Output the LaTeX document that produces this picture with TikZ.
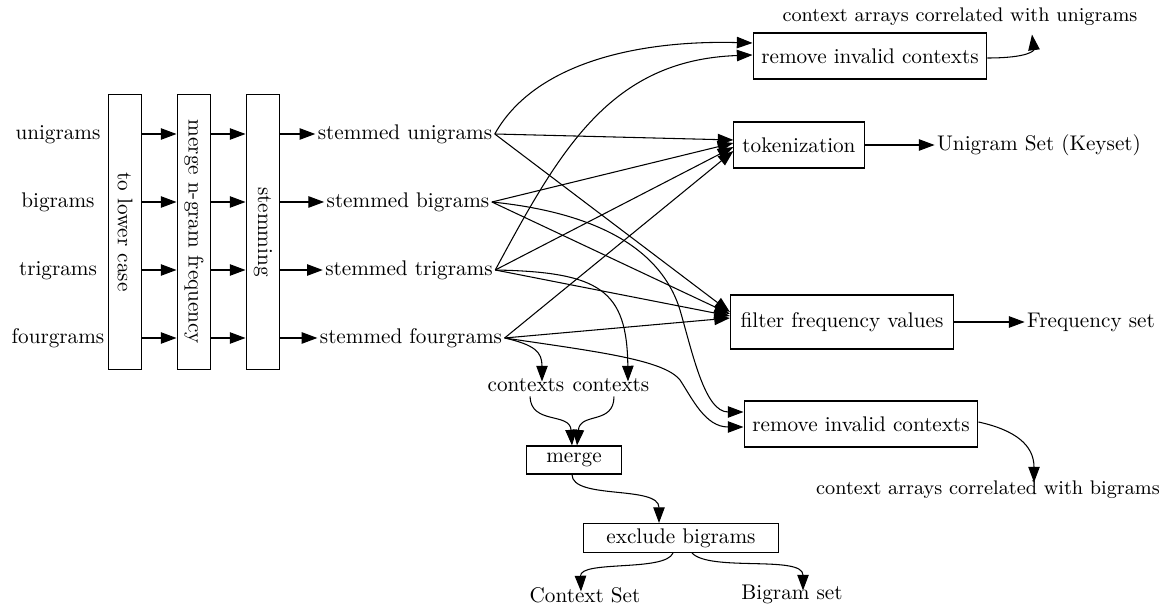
\documentclass[tikz,border=0pt]{standalone}
\usetikzlibrary{arrows.meta,calc}
\begin{document}
\begin{tikzpicture}[x=0.472pt,y=-0.472pt,
  edge/.style={draw, line width=0.5pt, -{Triangle[length=7.4pt,width=5.4pt]}},
  box/.style={draw, line width=0.5pt, inner sep=0pt},
  vbox/.style={box, rotate=-90, minimum width=129.8pt, minimum height=16pt},
  word/.style={inner sep=1pt, text height=1.5ex, text depth=.25ex},
  small/.style={word, font=\fontsize{9.3}{11}\selectfont}]
\useasboundingbox (0,0) rectangle (1165,606);

% input n-gram lists
\node[word] (un) at (58,134) {unigrams};
\node[word] (bi) at (58,202) {bigrams};
\node[word] (tr) at (58,270) {trigrams};
\node[word] (fo) at (58,338) {fourgrams};

% preprocessing stages
\node[vbox] (lc)  at (125,232) {to lower case};
\node[vbox] (mg)  at (194,232) {merge n-gram frequency};
\node[vbox] (stm) at (263,232) {stemming};

% stemmed outputs
\node[word] (sun) at (405,134) {stemmed unigrams};
\node[word] (sbi) at (408,202) {stemmed bigrams};
\node[word] (str) at (409,270) {stemmed trigrams};
\node[word] (sfo) at (411,338) {stemmed fourgrams};

% processing boxes on the right
\node[box, minimum width=110.4pt, minimum height=21.7pt] (rmA) at (870,56) {remove invalid contexts};
\node[box, minimum width=61.4pt, minimum height=21.7pt] (tok) at (799,145) {tokenization};
\node[box, minimum width=105.3pt, minimum height=25.5pt] (filt) at (842,322) {filter frequency values};
\node[box, minimum width=110.4pt, minimum height=21.7pt] (rmB) at (861,424) {remove invalid contexts};
\node[box, minimum width=44.8pt, minimum height=13.2pt] (mrg) at (574,460) {merge};
\node[box, minimum width=91.6pt, minimum height=13.7pt] (exc) at (681,538) {exclude bigrams};

% results
\node[small] (cau) at (960,16) {context arrays correlated with unigrams};
\node[word] (uset) at (1039,145) {Unigram Set (Keyset)};
\node[word] (fset) at (1091,322) {Frequency set};
\node[small] (cab) at (988,489) {context arrays correlated with bigrams};
\node[word] (cx1) at (526,386) {contexts};
\node[word] (cx2) at (611,386) {contexts};
\node[word] (cset) at (585,597) {Context Set};
\node[word] (bset) at (792,594) {Bigram set};

% pipeline rows
\foreach \r/\s in {un/sun,bi/sbi,tr/str,fo/sfo} {
  \draw[edge] (lc.north |- \r) -- (mg.south |- \r);
  \draw[edge] (mg.north |- \r) -- (stm.south |- \r);
  \draw[edge] (stm.north |- \s) -- (\s);
}

% into tokenization
\draw[edge] (sun.east) -- ($(tok.west)+(0,-5)$);
\draw[edge] (sbi.east) -- ($(tok.west)+(0,-2)$);
\draw[edge] (str.east) -- ($(tok.west)+(0,2)$);
\draw[edge] (sfo.east) -- ($(tok.west)+(0,6)$);

% into frequency filter
\draw[edge] (sun.east) -- ($(filt.west)+(0,-10)$);
\draw[edge] (sbi.east) -- ($(filt.west)+(0,-8)$);
\draw[edge] (str.east) -- ($(filt.west)+(0,-6)$);
\draw[edge] (sfo.east) -- ($(filt.west)+(0,-4)$);

% unigram context arrays
\draw[edge] (sun.east) .. controls (535,62) and (640,40) .. ($(rmA.west)+(0,-13)$);
\draw[edge] (str.east) .. controls (560,150) and (610,60) .. ($(rmA.west)+(0,-1)$);

% bigram context arrays
\draw[edge] (sbi.east) .. controls (590,212) and (660,245) .. (680,310)
  .. controls (693,355) and (705,412) .. ($(rmB.west)+(0,-12)$);
\draw[edge] (sfo.east) .. controls (600,352) and (664,360) .. (680,380)
  .. controls (692,398) and (705,427) .. ($(rmB.west)+(0,3)$);

% context sets
\draw[edge] (sfo.east) .. controls (535,345) and (542,352) .. ($(cx1.north)+(16,6)$);
\draw[edge] (str.east) .. controls (600,272) and (627,290) .. ($(cx2.north)+(17,6)$);
\draw[edge] ($(cx1.south)+(4,0)$) .. controls (531,425) and (570,412) .. ($(mrg.north)+(-2,0)$);
\draw[edge] ($(cx2.south)+(3,0)$) .. controls (614,425) and (580,412) .. ($(mrg.north)+(3,0)$);
\draw[edge] ($(mrg.south)+(-2,0)$) .. controls (572,500) and (659,485) .. ($(exc.north)+(-22,0)$);
\draw[edge] ($(exc.south)+(-8,0)$) .. controls (665,572) and (580,560) .. ($(cset.north)+(-4,5)$);
\draw[edge] ($(exc.south)+(11,0)$) .. controls (710,572) and (803,555) .. ($(bset.north)+(11,7)$);

% outputs
\draw[edge] (tok.east) -- (uset.west);
\draw[edge] (filt.east) -- (fset.west);
\draw[edge] ($(rmA.east)+(0,2)$) .. controls (1030,58) and (1034,50) .. ($(cau.south)+(72,8)$);
\draw[edge] ($(rmB.east)+(0,-2)$) .. controls (1015,430) and (1034,445) .. ($(cab.north)+(46,4)$);
\end{tikzpicture}
\end{document}
